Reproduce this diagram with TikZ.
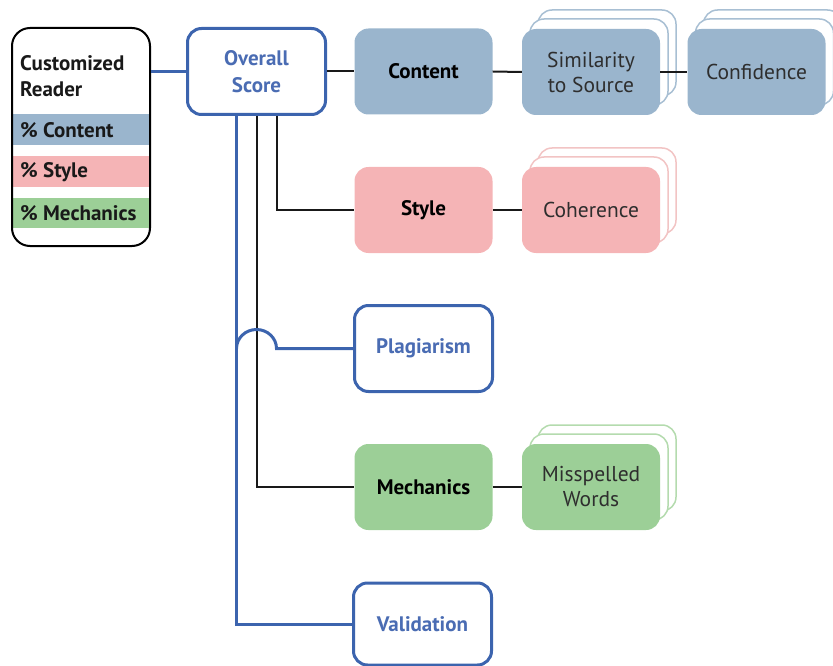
\documentclass[tikz,border=0pt]{standalone}
\usepackage{fontspec}
\setmainfont{PT Sans}
\usetikzlibrary{calc}
\definecolor{bblue}{HTML}{3C64AE}
\definecolor{btext}{HTML}{4A6CB3}
\definecolor{cfill}{HTML}{9AB5CD}
\definecolor{cline}{HTML}{A8BFD3}
\definecolor{sfill}{HTML}{F5B4B6}
\definecolor{sline}{HTML}{F2C4C4}
\definecolor{mfill}{HTML}{9CCF97}
\definecolor{mline}{HTML}{B4DBAE}
\definecolor{dtext}{HTML}{2E2E2E}
\tikzset{
  box/.style={rounded corners=14pt, minimum width=138pt, minimum height=86pt,
    align=center, inner sep=0pt, font=\fontsize{21.5}{25}\selectfont},
  bluebox/.style={box, draw=bblue, line width=3pt, fill=white, text=btext,
    font=\bfseries\fontsize{21}{27}\selectfont},
  catbox/.style={box, font=\bfseries\fontsize{21}{25}\selectfont, text=black},
  subbox/.style={box, text=dtext},
  backcard/.style={rounded corners=14pt, line width=1.5pt, fill=white},
  blkline/.style={line width=2pt, draw=black!90},
  bline/.style={line width=3pt, draw=bblue},
  crtext/.style={anchor=west, inner sep=0pt, font=\bfseries\fontsize{21}{26}\selectfont, text=black!90},
}
\begin{document}
\begin{tikzpicture}[x=1pt,y=-1pt]
\useasboundingbox (0,0) rectangle (833,666);

% Customized Reader
\fill[cfill] (12,114) rectangle (150,145);
\fill[sfill] (12,156) rectangle (150,187);
\fill[mfill] (12,198) rectangle (150,228);
\node[draw=black, line width=2pt, rounded corners=18pt, minimum width=138pt,
  minimum height=218pt, inner sep=0pt] (cr) at (81,137) {};
\node[crtext, align=left] (crt) at (20,76) {Customized\\Reader};
\node[crtext] (crc) at (20,130) {\% Content};
\node[crtext] (crs) at (20,172) {\% Style};
\node[crtext] (crm) at (20,213) {\% Mechanics};

% main nodes
\node[bluebox] (os) at (256.5,71.5) {Overall\\Score};
\node[catbox, fill=cfill] (content) at (423.5,71.5) {Content};
\node[catbox, fill=sfill] (style) at (423.5,210) {Style};
\node[bluebox] (plag) at (423.5,348.5) {Plagiarism};
\node[catbox, fill=mfill] (mech) at (423.5,487) {Mechanics};
\node[bluebox, minimum height=82pt] (valid) at (422.5,624) {Validation};

% stacked cards
\foreach \cx/\cy/\col in {591/72/cline, 756.5/72/cline, 591/210/sline, 591/487/mline}{
  \draw[backcard, draw=\col] (\cx-69+16,\cy-43-19) rectangle (\cx+69+16,\cy+43-19);
  \draw[backcard, draw=\col] (\cx-69+8,\cy-43-10) rectangle (\cx+69+8,\cy+43-10);
}
\node[subbox, fill=cfill] (sim) at (591,72) {Similarity\\to Source};
\node[subbox, fill=cfill] (conf) at (756.5,72) {Confidence};
\node[subbox, fill=sfill] (coh) at (591,210) {Coherence};
\node[subbox, fill=mfill] (miss) at (591,487) {Misspelled\\Words};

% connectors
\coordinate (osL) at ($(os.south)+(-20,0)$);
\coordinate (osR) at ($(os.south)+(20,0)$);
\coordinate (hopT) at ($(os.south |- plag.west)+(0,-19)$);

\draw[bline] (cr.east |- os.west) -- (os.west);
\draw[blkline] (os.east) -- (content.west);
\draw[blkline] (content.east) -- (sim.west);
\draw[blkline] (sim.east) -- (conf.west);
\draw[blkline] (style.east) -- (coh.west);
\draw[blkline] (mech.east) -- (miss.west);
\draw[blkline] (osR) |- (style.west);
\draw[blkline] (os.south) |- (mech.west);
\draw[bline] (osL) |- (valid.west);
\draw[bline] (plag.west) -- (osR |- plag.west)
  .. controls +(0,-10.5) and +(11,0) .. (hopT)
  .. controls +(-11,0) and +(0,-10.5) .. (osL |- plag.west);
\end{tikzpicture}
\end{document}
